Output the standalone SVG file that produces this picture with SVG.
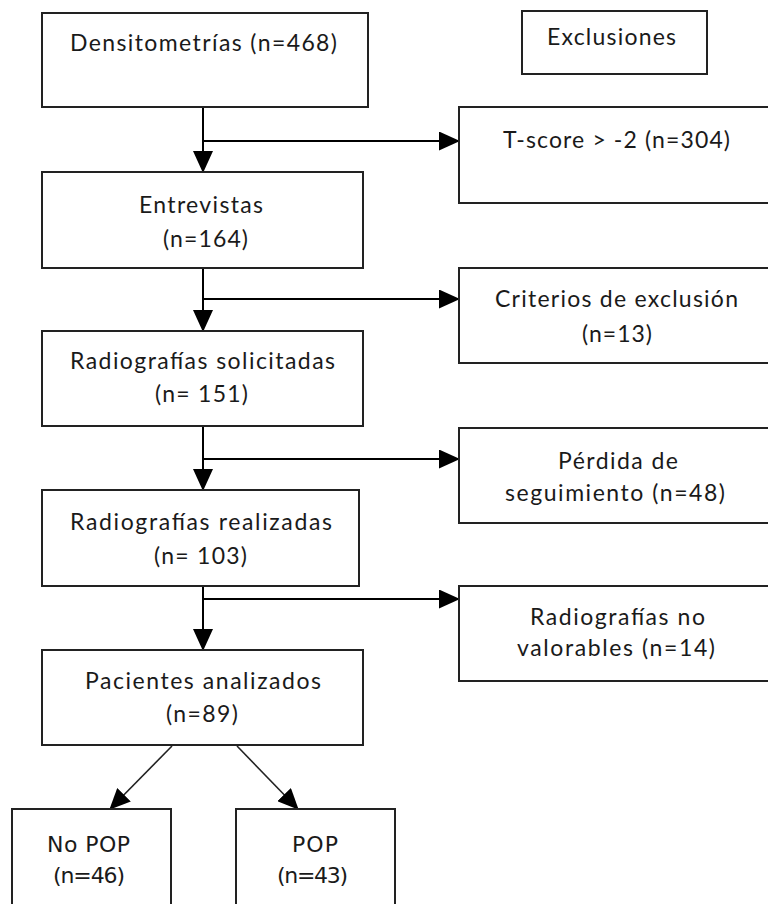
<svg xmlns="http://www.w3.org/2000/svg" width="768" height="904" viewBox="0 0 768 904">
  <defs>
    <marker id="arrow" markerUnits="userSpaceOnUse" markerWidth="22" markerHeight="20" refX="21" refY="10" orient="auto">
      <path d="M0,0 L22,10 L0,20 z" fill="#000"/>
    </marker>
    <marker id="arrow-sm" markerUnits="userSpaceOnUse" markerWidth="21" markerHeight="19" refX="20" refY="9.5" orient="auto">
      <path d="M0,0 L21,9.5 L0,19 z" fill="#000"/>
    </marker>
  </defs>
  <style>
    .box { fill: #fff; stroke: #222; stroke-width: 2; }
    .lbl { font-family: Lato, "Open Sans", "Liberation Sans", sans-serif; font-size: 23px; fill: #1a1a1a; text-anchor: middle; }
    .lbl2 { font-family: "DejaVu Sans", sans-serif; font-size: 22px; fill: #1a1a1a; text-anchor: middle; }
    .conn { fill: none; stroke: #000; stroke-width: 2; }
    .diag { fill: none; stroke: #222; stroke-width: 1.6; }
  </style>
  <rect width="768" height="904" fill="#fff"/>

  <!-- connectors -->
  <g id="connectors">
    <path class="conn" d="M203,107 V172" marker-end="url(#arrow)"/>
    <path class="conn" d="M203,141 H459" marker-end="url(#arrow-sm)"/>
    <path class="conn" d="M203,268 V331" marker-end="url(#arrow)"/>
    <path class="conn" d="M203,299 H459" marker-end="url(#arrow-sm)"/>
    <path class="conn" d="M203,426 V490" marker-end="url(#arrow)"/>
    <path class="conn" d="M203,459 H459" marker-end="url(#arrow-sm)"/>
    <path class="conn" d="M203,586 V650" marker-end="url(#arrow)"/>
    <path class="conn" d="M203,599 H459" marker-end="url(#arrow-sm)"/>
    <path class="diag" d="M172,746 L110,809" marker-end="url(#arrow-sm)"/>
    <path class="diag" d="M237,746 L298,809" marker-end="url(#arrow-sm)"/>
  </g>

  <!-- main flow -->
  <g id="densitometrias">
    <rect class="box" x="42" y="13" width="326" height="94"/>
    <text class="lbl" x="203.5" y="51" textLength="267" lengthAdjust="spacing">Densitometrías (n=468)</text>
  </g>
  <g id="entrevistas">
    <rect class="box" x="42" y="172" width="321" height="96"/>
    <text class="lbl" x="201" y="213" textLength="124" lengthAdjust="spacing">Entrevistas</text>
    <text class="lbl" x="205.5" y="247" textLength="85" lengthAdjust="spacing">(n=164)</text>
  </g>
  <g id="solicitadas">
    <rect class="box" x="42" y="331" width="321" height="95"/>
    <text class="lbl" x="202.5" y="369" textLength="265" lengthAdjust="spacing">Radiografías solicitadas</text>
    <text class="lbl" x="201.5" y="402" textLength="93" lengthAdjust="spacing">(n= 151)</text>
  </g>
  <g id="realizadas">
    <rect class="box" x="42" y="490" width="317" height="96"/>
    <text class="lbl" x="201" y="530" textLength="262" lengthAdjust="spacing">Radiografías realizadas</text>
    <text class="lbl" x="200.5" y="564" textLength="93" lengthAdjust="spacing">(n= 103)</text>
  </g>
  <g id="analizados">
    <rect class="box" x="42" y="650" width="321" height="95"/>
    <text class="lbl" x="203" y="689" textLength="236" lengthAdjust="spacing">Pacientes analizados</text>
    <text class="lbl" x="202" y="722" textLength="72" lengthAdjust="spacing">(n=89)</text>
  </g>

  <!-- exclusions column -->
  <g id="exclusiones">
    <rect class="box" x="522" y="11" width="185" height="63"/>
    <text class="lbl" x="611.5" y="45" textLength="129" lengthAdjust="spacing">Exclusiones</text>
  </g>
  <g id="tscore">
    <rect class="box" x="459" y="107" width="330" height="96"/>
    <text class="lbl" x="616.5" y="148" textLength="227" lengthAdjust="spacing">T-score &gt; -2 (n=304)</text>
  </g>
  <g id="criterios">
    <rect class="box" x="459" y="268" width="330" height="95"/>
    <text class="lbl" x="616.5" y="307" textLength="243" lengthAdjust="spacing">Criterios de exclusión</text>
    <text class="lbl" x="617" y="342" textLength="70" lengthAdjust="spacing">(n=13)</text>
  </g>
  <g id="perdida">
    <rect class="box" x="459" y="428" width="330" height="95"/>
    <text class="lbl" x="618" y="469" textLength="120" lengthAdjust="spacing">Pérdida de</text>
    <text class="lbl" x="615" y="501" textLength="220" lengthAdjust="spacing">seguimiento (n=48)</text>
  </g>
  <g id="no-valorables">
    <rect class="box" x="459" y="586" width="330" height="95"/>
    <text class="lbl" x="617.5" y="625" textLength="175" lengthAdjust="spacing">Radiografías no</text>
    <text class="lbl" x="616" y="656" textLength="198" lengthAdjust="spacing">valorables (n=14)</text>
  </g>

  <!-- outcome groups -->
  <g id="no-pop">
    <rect class="box" x="12" y="809" width="159" height="110"/>
    <text class="lbl2" x="88.5" y="852" textLength="83" lengthAdjust="spacing">No POP</text>
    <text class="lbl2" x="89" y="883" textLength="72" lengthAdjust="spacing">(n=46)</text>
  </g>
  <g id="pop">
    <rect class="box" x="236" y="809" width="159" height="110"/>
    <text class="lbl2" x="315" y="852" textLength="46" lengthAdjust="spacing">POP</text>
    <text class="lbl2" x="312.5" y="883" textLength="71" lengthAdjust="spacing">(n=43)</text>
  </g>
</svg>
